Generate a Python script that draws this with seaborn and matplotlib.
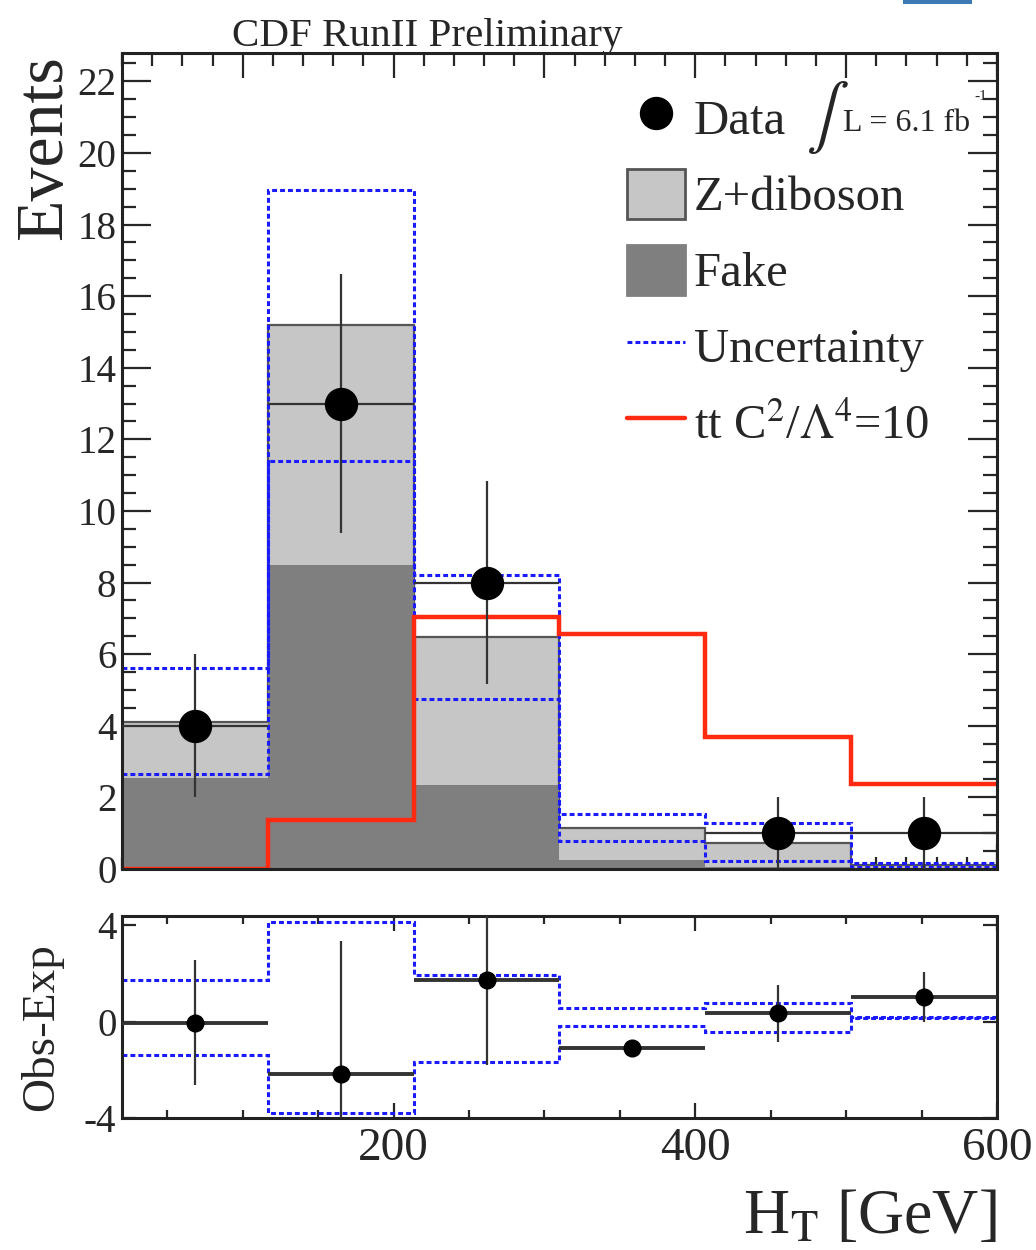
import numpy as np
import pandas as pd
import matplotlib
matplotlib.use("Agg")
import matplotlib.pyplot as plt
import seaborn as sns
from matplotlib.lines import Line2D
from matplotlib.patches import Patch, Rectangle
from matplotlib.ticker import MultipleLocator, FixedLocator

# ---------------- data ----------------
bin_edges = [20.0, 116.7, 213.3, 310.0, 406.7, 503.3, 600.0]
fake = [2.53, 8.50, 2.35, 0.25, 0.05, 0.03]
z_diboson = [1.57, 6.70, 4.12, 0.90, 0.69, 0.07]
unc_up = [5.62, 18.97, 8.21, 1.53, 1.29, 0.17]
unc_dn = [2.65, 11.40, 4.74, 0.79, 0.23, 0.06]
ttbar = [0.00, 1.37, 7.05, 6.56, 3.69, 2.37]
data = [4, 13, 8, 0, 1, 1]
data_err = [2.00, 3.61, 2.83, 0.00, 1.00, 1.00]

diff = [-0.04, -2.17, 1.72, -1.10, 0.34, 1.03]
diff_err = [2.60, 5.50, 3.50, 0.00, 1.20, 1.05]
diff_unc_up = [1.72, 4.14, 1.93, 0.55, 0.76, 0.20]
diff_unc_dn = [-1.38, -3.79, -1.68, -0.20, -0.41, 0.14]

legend_labels = ["Data", "Z+diboson", "Fake", "Uncertainty", r"tt C$^2$/$\Lambda^4$=10"]

# ---------------- style ----------------
sns.set_style("white")
plt.rcParams["font.family"] = ["Liberation Serif", "DejaVu Serif"]
plt.rcParams["mathtext.fontset"] = "stix"
plt.rcParams["axes.unicode_minus"] = False

LIGHT = "#c6c6c6"
DARK = "#7f7f7f"
BLUE = "#1a1aff"
RED = "#ff2a10"
ERRC = "#333333"
DASH = (0, (1.6, 1.0))

edges = np.array(bin_edges)
centers = 0.5 * (edges[:-1] + edges[1:])
halfw = 0.5 * (edges[1:] - edges[:-1])
total = np.array(fake) + np.array(z_diboson)

df = pd.DataFrame({"HT": centers, "total": total, "fake": fake})

fig = plt.figure(figsize=(10.36, 12.5), dpi=100)
ax = fig.add_axes([0.11776, 0.3048, 0.84459, 0.65304])
ax2 = fig.add_axes([0.11776, 0.1056, 0.84459, 0.16184])

# ---------------- main panel ----------------
sns.histplot(data=df, x="HT", weights="total", bins=bin_edges, element="step",
             fill=True, color=LIGHT, alpha=1, linewidth=0, ax=ax)
ax.stairs(total, edges, baseline=None, color="#555555", lw=1.6)
sns.histplot(data=df, x="HT", weights="fake", bins=bin_edges, element="step",
             fill=True, color=DARK, alpha=1, linewidth=0, ax=ax)

ax.stairs(unc_up, edges, baseline=None, color=BLUE, lw=2.2, linestyle=DASH)
ax.stairs(unc_dn, edges, baseline=None, color=BLUE, lw=2.2, linestyle=DASH)
ax.stairs(ttbar, edges, baseline=None, color=RED, lw=3.2)

d = np.array(data, dtype=float)
m = d > 0
ax.errorbar(centers[m], d[m], xerr=halfw[m], yerr=np.array(data_err)[m], fmt="none",
            ecolor=ERRC, elinewidth=1.6, capsize=0, zorder=5)
ax.plot(centers[m], d[m], "o", color="black", ms=23, zorder=6)

ax.set_xlim(20, 600)
ax.set_ylim(0, 22.8)
ax.set_xlabel("")
ax.set_ylabel("")
ax.xaxis.set_major_locator(MultipleLocator(100))
ax.xaxis.set_minor_locator(MultipleLocator(20))
ax.yaxis.set_major_locator(MultipleLocator(2))
ax.yaxis.set_minor_locator(MultipleLocator(0.5))
ax.tick_params(axis="x", which="both", direction="in", top=True, bottom=True,
               labelbottom=False, width=1.6)
ax.tick_params(axis="x", which="major", length=18)
ax.tick_params(axis="x", which="minor", length=9)
ax.tick_params(axis="y", which="both", direction="in", left=True, right=True,
               labelsize=28, pad=4, width=1.6)
ax.tick_params(axis="y", which="major", length=21)
ax.tick_params(axis="y", which="minor", length=10)
for s in ax.spines.values():
    s.set_linewidth(2.2)
    s.set_color("#222222")

ax.text(-0.0880, 0.997, "Events", transform=ax.transAxes, rotation=90,
        ha="center", va="top", fontsize=49)

handles = [
    Line2D([], [], marker="o", color="black", ms=23, ls="none"),
    Patch(facecolor=LIGHT, edgecolor="#555555", lw=2),
    Patch(facecolor=DARK, edgecolor=DARK, lw=2),
    Line2D([], [], color=BLUE, lw=2.2, linestyle=DASH),
    Line2D([], [], color=RED, lw=3.2),
]
leg = ax.legend(handles, legend_labels, loc="upper left",
                bbox_to_anchor=(0.577, 0.951), frameon=False, fontsize=35,
                handlelength=1.2, handleheight=1.2, handletextpad=0.18,
                labelspacing=0.51, borderpad=0, borderaxespad=0)

ax.text(0.782, 0.921, r"$\int$", transform=ax.transAxes, fontsize=46,
        ha="left", va="center")
ax.text(0.824, 0.9035, "L = 6.1 fb", transform=ax.transAxes,
        fontsize=23, ha="left", va="baseline")
ax.text(0.974, 0.942, "-1", transform=ax.transAxes,
        fontsize=11, ha="left", va="baseline")

# ---------------- ratio panel ----------------
ax2.stairs(diff_unc_up, edges, baseline=None, color=BLUE, lw=2.2, linestyle=DASH)
ax2.stairs(diff_unc_dn, edges, baseline=None, color=BLUE, lw=2.2, linestyle=DASH)
ax2.errorbar(centers, diff, xerr=halfw, fmt="none", ecolor=ERRC, elinewidth=2.8,
             capsize=0, zorder=5)
ax2.errorbar(centers, diff, yerr=diff_err, fmt="none", ecolor=ERRC, elinewidth=1.6,
             capsize=0, zorder=5)
ax2.plot(centers, diff, "o", color="black", ms=12, zorder=6)

ax2.set_xlim(20, 600)
ax2.set_ylim(-4, 4.4)
ax2.xaxis.set_major_locator(FixedLocator([200, 400, 600]))
ax2.xaxis.set_minor_locator(MultipleLocator(50))
ax2.yaxis.set_major_locator(FixedLocator([-4, 0, 4]))
ax2.tick_params(axis="x", which="both", direction="in", top=True, bottom=True,
                labelsize=34, pad=7, width=1.6)
ax2.tick_params(axis="x", which="major", length=11)
ax2.tick_params(axis="x", which="minor", length=6)
ax2.tick_params(axis="y", which="both", direction="in", left=True, right=True,
                labelsize=28, pad=4, length=10, width=1.6)
for s in ax2.spines.values():
    s.set_linewidth(2.2)
    s.set_color("#222222")

ax2.text(-0.092, 0.45, "Obs-Exp", transform=ax2.transAxes, rotation=90,
         ha="center", va="center", fontsize=34)
ax2.text(1.0, -0.57, r"H$_\mathrm{T}$ [GeV]", transform=ax2.transAxes,
         ha="right", va="baseline", fontsize=46)

fig.text(0.224, 0.9632, "CDF RunII Preliminary", ha="left", va="baseline",
         fontsize=29.5)
fig.patches.append(Rectangle((903 / 1036, 1 - 4 / 1250), 69 / 1036, 4 / 1250,
                             transform=fig.transFigure, facecolor="#3d7ab5",
                             edgecolor="none"))

fig.savefig("out.png", dpi=100)
